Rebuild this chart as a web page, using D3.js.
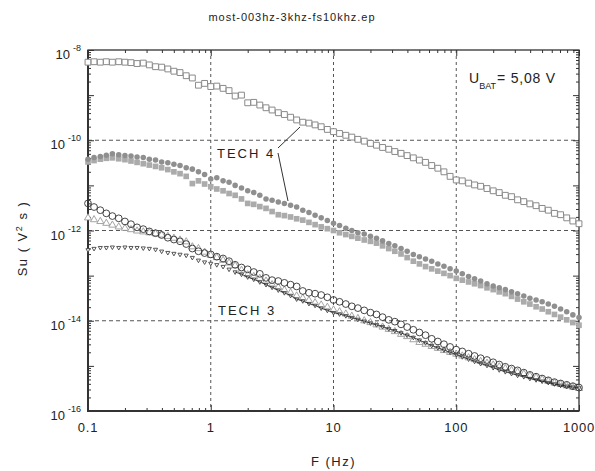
<!DOCTYPE html>
<html>
<head>
<meta charset="utf-8">
<script src="https://cdn.jsdelivr.net/npm/d3@7"></script>
<style>
  body { margin: 0; background: #fff; }
  text { font-family: "Liberation Sans", Arial, sans-serif; fill: #222; }
</style>
</head>
<body>
<div id="chart-area"></div>
<script>
// frequencies (Hz), shared by all series
var freq = [0.1,0.112,0.126,0.141,0.158,0.178,0.2,0.224,0.251,0.282,0.316,0.355,0.398,0.447,0.501,0.562,0.631,0.708,0.794,0.891,
  1,1.12,1.26,1.41,1.58,1.78,2,2.24,2.51,2.82,3.16,3.55,3.98,4.47,5.01,5.62,6.31,7.08,7.94,8.91,
  10,11.2,12.6,14.1,15.8,17.8,20,22.4,25.1,28.2,31.6,35.5,39.8,44.7,50.1,56.2,63.1,70.8,79.4,89.1,
  100,112,126,141,158,178,200,224,251,282,316,355,398,447,501,562,631,708,794,891,1000];

// log10 of Su (V^2 s)
var openSquares = [-8.27,-8.26,-8.27,-8.26,-8.27,-8.26,-8.27,-8.28,-8.30,-8.29,-8.33,-8.37,-8.38,-8.42,-8.47,-8.50,-8.57,-8.62,-8.78,-8.74,
  -8.81,-8.80,-8.85,-8.90,-9.02,-9.00,-9.17,-9.16,-9.22,-9.28,-9.33,-9.39,-9.43,-9.49,-9.55,-9.60,-9.62,-9.66,-9.70,-9.76,
  -9.81,-9.85,-9.89,-9.93,-9.98,-10.02,-10.07,-10.11,-10.16,-10.20,-10.25,-10.29,-10.34,-10.39,-10.44,-10.49,-10.56,-10.62,-10.70,-10.80,
  -10.88,-10.90,-10.95,-10.99,-11.02,-11.07,-11.12,-11.16,-11.22,-11.25,-11.32,-11.36,-11.41,-11.45,-11.51,-11.55,-11.62,-11.65,-11.72,-11.79,-11.85];

var filledSquares = [-10.48,-10.45,-10.42,-10.40,-10.39,-10.41,-10.43,-10.46,-10.49,-10.52,-10.55,-10.58,-10.61,-10.65,-10.70,-10.74,-10.80,-10.96,-10.90,-10.97,
  -11.03,-11.08,-11.12,-11.18,-11.22,-11.30,-11.40,-11.42,-11.47,-11.51,-11.58,-11.65,-11.67,-11.70,-11.74,-11.77,-11.82,-11.87,-11.92,-11.96,
  -12.00,-12.05,-12.09,-12.13,-12.17,-12.21,-12.24,-12.28,-12.34,-12.40,-12.46,-12.52,-12.60,-12.68,-12.74,-12.80,-12.85,-12.90,-12.95,-13.00,
  -13.06,-13.10,-13.14,-13.18,-13.22,-13.27,-13.31,-13.36,-13.40,-13.46,-13.52,-13.58,-13.63,-13.69,-13.74,-13.80,-13.86,-13.92,-13.98,-14.04,-14.10];

var filledDots = [-10.42,-10.38,-10.36,-10.33,-10.30,-10.32,-10.34,-10.35,-10.37,-10.38,-10.42,-10.44,-10.48,-10.50,-10.53,-10.56,-10.61,-10.64,-10.70,-10.76,
  -10.86,-10.83,-10.90,-10.93,-11.00,-11.06,-11.12,-11.16,-11.22,-11.30,-11.33,-11.37,-11.40,-11.44,-11.48,-11.55,-11.60,-11.66,-11.72,-11.78,
  -11.84,-11.89,-11.95,-12.00,-12.05,-12.08,-12.13,-12.17,-12.23,-12.29,-12.34,-12.40,-12.46,-12.53,-12.58,-12.63,-12.68,-12.74,-12.79,-12.85,
  -12.90,-12.96,-13.02,-13.07,-13.12,-13.18,-13.23,-13.27,-13.31,-13.36,-13.40,-13.45,-13.50,-13.54,-13.58,-13.63,-13.68,-13.74,-13.80,-13.87,-13.93];

var openCircles = [-11.40,-11.48,-11.55,-11.62,-11.68,-11.73,-11.80,-11.86,-11.93,-11.97,-12.02,-12.06,-12.10,-12.16,-12.20,-12.24,-12.30,-12.40,-12.46,-12.50,
  -12.53,-12.58,-12.62,-12.68,-12.76,-12.82,-12.86,-12.92,-12.96,-13.05,-13.10,-13.12,-13.16,-13.20,-13.24,-13.34,-13.38,-13.40,-13.43,-13.48,
  -13.54,-13.58,-13.63,-13.68,-13.72,-13.77,-13.82,-13.86,-13.92,-13.98,-14.02,-14.08,-14.14,-14.20,-14.26,-14.32,-14.40,-14.46,-14.52,-14.58,
  -14.64,-14.68,-14.73,-14.78,-14.83,-14.87,-14.92,-14.97,-15.02,-15.06,-15.10,-15.15,-15.20,-15.24,-15.28,-15.32,-15.36,-15.39,-15.42,-15.45,-15.48];

var triUp = [-11.72,-11.76,-11.80,-11.84,-11.88,-11.92,-11.95,-11.98,-12.01,-12.03,-12.05,-12.07,-12.10,-12.13,-12.17,-12.21,-12.25,-12.36,-12.40,-12.48,
  -12.55,-12.60,-12.66,-12.72,-12.78,-12.88,-12.98,-13.02,-13.06,-13.12,-13.20,-13.26,-13.32,-13.38,-13.45,-13.50,-13.55,-13.60,-13.65,-13.70,
  -13.76,-13.80,-13.85,-13.90,-13.95,-14.00,-14.04,-14.09,-14.14,-14.19,-14.24,-14.30,-14.35,-14.42,-14.48,-14.52,-14.57,-14.61,-14.66,-14.70,
  -14.74,-14.78,-14.82,-14.86,-14.90,-14.94,-14.98,-15.02,-15.06,-15.10,-15.14,-15.18,-15.22,-15.26,-15.30,-15.34,-15.38,-15.41,-15.44,-15.47,-15.50];

var triDown = [-12.43,-12.40,-12.38,-12.38,-12.37,-12.38,-12.37,-12.38,-12.38,-12.39,-12.40,-12.42,-12.46,-12.49,-12.51,-12.53,-12.55,-12.60,-12.66,-12.70,
  -12.73,-12.76,-12.80,-12.86,-12.92,-12.97,-13.03,-13.08,-13.14,-13.20,-13.26,-13.32,-13.38,-13.44,-13.52,-13.56,-13.62,-13.66,-13.72,-13.77,
  -13.82,-13.85,-13.89,-13.93,-13.97,-14.01,-14.05,-14.09,-14.13,-14.18,-14.22,-14.27,-14.32,-14.37,-14.43,-14.49,-14.55,-14.60,-14.65,-14.70,
  -14.75,-14.80,-14.85,-14.90,-14.95,-14.99,-15.04,-15.09,-15.13,-15.17,-15.21,-15.24,-15.28,-15.31,-15.34,-15.37,-15.40,-15.43,-15.45,-15.47,-15.49];

var xTickLabels = ["0.1", "1", "10", "100", "1000"];
var yLabelExps = [-8, -10, -12, -14, -16];

var margin = {left: 88, right: 16, top: 50, bottom: 60};
var W = 595, H = 471;
var width = W - margin.left - margin.right;
var height = H - margin.top - margin.bottom;

var svg = d3.select("#chart-area").append("svg")
  .attr("width", W)
  .attr("height", H);
var g = svg.append("g")
  .attr("transform", "translate(" + margin.left + ", " + margin.top + ")");

var x = d3.scaleLog().domain([0.1, 1000]).range([0, width]);
var y = d3.scaleLog().domain([1e-16, 1e-8]).range([height, 0]);

// tick positions
var xMajor = [0.1, 1, 10, 100, 1000];
var xMinor = [];
xMajor.slice(0, -1).forEach(function(d) {
  for (var k = 2; k <= 9; k++) xMinor.push(d * k);
});
var yMajor = d3.range(-16, -7).map(function(e) { return Math.pow(10, e); });
var yMinor = [];
yMajor.slice(0, -1).forEach(function(d) {
  for (var k = 2; k <= 9; k++) yMinor.push(d * k);
});

// grid
g.append("g").selectAll("line").data([1, 10, 100]).enter().append("line")
  .attr("x1", function(d) { return x(d); })
  .attr("x2", function(d) { return x(d); })
  .attr("y1", 0).attr("y2", height)
  .attr("stroke", "#555").attr("stroke-width", 1)
  .attr("stroke-dasharray", "3,3");
g.append("g").selectAll("line").data([1e-10, 1e-12, 1e-14]).enter().append("line")
  .attr("x1", 0).attr("x2", width)
  .attr("y1", function(d) { return y(d); })
  .attr("y2", function(d) { return y(d); })
  .attr("stroke", "#555").attr("stroke-width", 1)
  .attr("stroke-dasharray", "4,3");

// inward ticks on all four sides
function tickAxis(axis, tx) {
  var a = g.append("g").attr("transform", tx).call(axis);
  a.select(".domain").remove();
  a.selectAll("text").remove();
  a.selectAll("line").attr("stroke", "#333");
  return a;
}
tickAxis(d3.axisBottom(x).tickValues(xMajor).tickSize(-6), "translate(0," + height + ")");
tickAxis(d3.axisBottom(x).tickValues(xMinor).tickSize(-3), "translate(0," + height + ")");
tickAxis(d3.axisTop(x).tickValues(xMajor).tickSize(-6), "translate(0,0)");
tickAxis(d3.axisTop(x).tickValues(xMinor).tickSize(-3), "translate(0,0)");
tickAxis(d3.axisLeft(y).tickValues(yMajor).tickSize(-6), "translate(0,0)");
tickAxis(d3.axisLeft(y).tickValues(yMinor).tickSize(-3), "translate(0,0)");
tickAxis(d3.axisRight(y).tickValues(yMajor).tickSize(-6), "translate(" + width + ",0)");
tickAxis(d3.axisRight(y).tickValues(yMinor).tickSize(-3), "translate(" + width + ",0)");

// frame
g.append("rect").attr("width", width).attr("height", height)
  .attr("fill", "none").attr("stroke", "#333").attr("stroke-width", 1.3);
g.append("path")
  .attr("d", "M0,0V" + height + "H" + width)
  .attr("fill", "none").attr("stroke", "#333").attr("stroke-width", 2);

// tick labels
g.append("g").selectAll("text").data(xMajor).enter().append("text")
  .attr("x", function(d) { return x(d); })
  .attr("y", height + 21)
  .attr("text-anchor", "middle")
  .attr("font-size", "13px")
  .attr("letter-spacing", "0.8px")
  .text(function(d, i) { return xTickLabels[i]; });

var yl = g.append("g").selectAll("text").data(yLabelExps).enter().append("text")
  .attr("x", -7)
  .attr("y", function(d) { return y(Math.pow(10, d)) + 9; })
  .attr("text-anchor", "end")
  .attr("font-size", "13px");
yl.append("tspan").text("10");
yl.append("tspan").attr("dx", 3).attr("dy", -8).attr("font-size", "9px")
  .text(function(d) { return d; });

// marks
function pts(vals) {
  return vals.map(function(v, i) { return {f: freq[i], v: Math.pow(10, v)}; });
}
function tr(d) { return "translate(" + x(d.f) + "," + y(d.v) + ")"; }

function drawSeries(vals, type, size, fill, stroke, sw) {
  g.append("g").selectAll("path").data(pts(vals)).enter().append("path")
    .attr("transform", tr)
    .attr("d", d3.symbol().type(type).size(size))
    .attr("fill", fill)
    .attr("stroke", stroke)
    .attr("stroke-width", sw);
}

var triDownSym = {
  draw: function(ctx, size) {
    var s = Math.sqrt(size / (3 * Math.sqrt(3) / 4)) ;
    var h = s * Math.sqrt(3) / 2;
    ctx.moveTo(-s / 2, -h / 3);
    ctx.lineTo(s / 2, -h / 3);
    ctx.lineTo(0, 2 * h / 3);
    ctx.closePath();
  }
};

drawSeries(openSquares, d3.symbolSquare, 34, "white", "#8a8a8a", 1);
drawSeries(filledSquares, d3.symbolSquare, 32, "#ababab", "none", 0);
drawSeries(filledDots, d3.symbolCircle, 24, "#8f8f8f", "none", 0);
drawSeries(triUp, d3.symbolTriangle, 22, "white", "#9a9a9a", 0.9);
drawSeries(triDown, triDownSym, 22, "white", "#444", 0.9);
drawSeries(openCircles, d3.symbolCircle, 36, "none", "#333", 0.9);

// thin fit line along the lower set at high frequency
var line = d3.line()
  .x(function(d) { return x(d.f); })
  .y(function(d) { return y(d.v); });
g.append("path")
  .datum(pts(triDown).slice(24))
  .attr("d", line)
  .attr("fill", "none")
  .attr("stroke", "#222")
  .attr("stroke-width", 0.8);

// annotations
svg.append("text")
  .attr("x", 292).attr("y", 21)
  .attr("text-anchor", "middle")
  .attr("font-size", "11px")
  .attr("letter-spacing", "1px")
  .text("most-003hz-3khz-fs10khz.ep");

svg.append("text")
  .attr("x", margin.left + width / 2).attr("y", 466)
  .attr("text-anchor", "middle")
  .attr("font-size", "13px")
  .attr("letter-spacing", "1.5px")
  .text("F (Hz)");

var ylab = svg.append("text")
  .attr("transform", "translate(27," + (margin.top + height / 2 + 8) + ") rotate(-90)")
  .attr("text-anchor", "middle")
  .attr("font-size", "13px")
  .attr("letter-spacing", "1.5px");
ylab.append("tspan").text("Su ( V");
ylab.append("tspan").attr("dy", -5).attr("font-size", "9px").text("2");
ylab.append("tspan").attr("dy", 5).text(" s )");

var ubat = svg.append("text")
  .attr("x", 469).attr("y", 83)
  .attr("font-size", "14px");
ubat.append("tspan").text("U");
ubat.append("tspan").attr("dy", 6).attr("font-size", "9px").text("BAT");
ubat.append("tspan").attr("dy", -6).attr("dx", 1).attr("letter-spacing", "0.8px").text("= 5,08 V");

svg.append("text")
  .attr("x", 217).attr("y", 158)
  .attr("font-size", "13px")
  .attr("letter-spacing", "2px")
  .text("TECH 4");
svg.append("text")
  .attr("x", 218).attr("y", 315)
  .attr("font-size", "13px")
  .attr("letter-spacing", "2px")
  .text("TECH 3");

svg.append("line").attr("x1", 278).attr("y1", 148).attr("x2", 300).attr("y2", 127)
  .attr("stroke", "#333").attr("stroke-width", 1);
svg.append("line").attr("x1", 278).attr("y1", 153).attr("x2", 288).attr("y2", 201)
  .attr("stroke", "#333").attr("stroke-width", 1);
</script>
</body>
</html>
